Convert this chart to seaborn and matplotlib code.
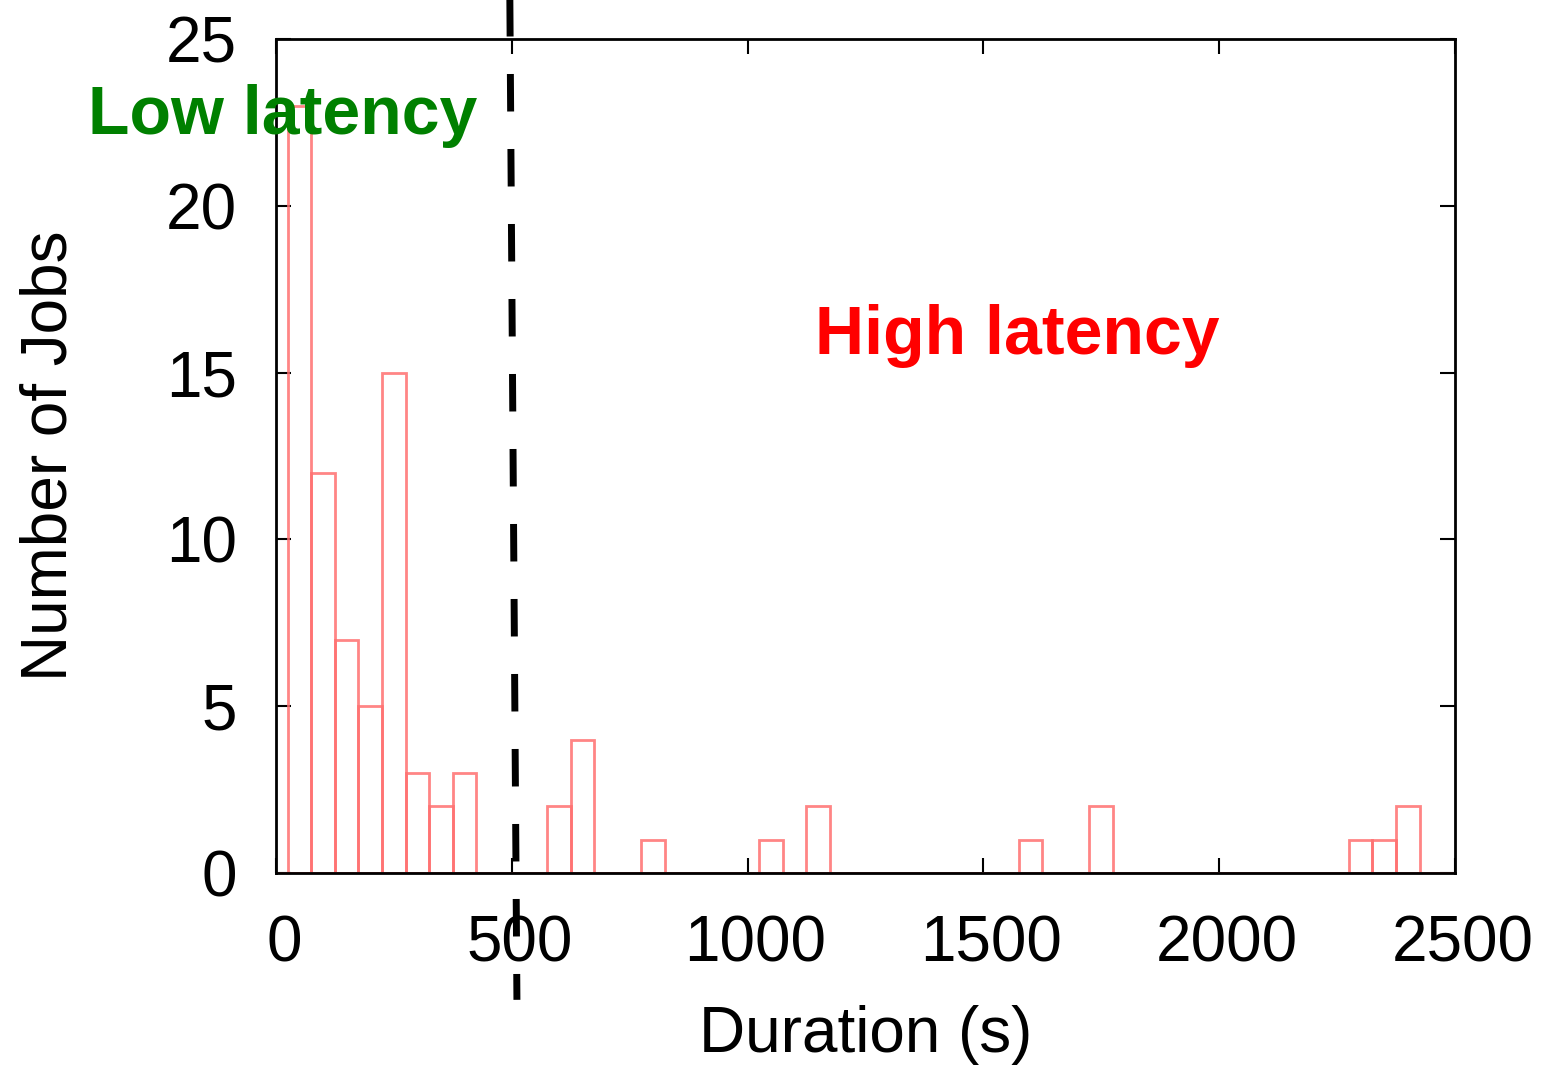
import numpy as np
import pandas as pd
import matplotlib.pyplot as plt
import matplotlib.transforms as mtransforms
import seaborn as sns

# Histogram counts (bin centres in seconds, width 50)
bin_centers = [50, 100, 150, 200, 250, 300, 350, 400,
               600, 650, 800, 1050, 1150, 1600, 1750, 2300, 2350, 2400]
job_counts = [23, 12, 7, 5, 15, 3, 2, 3,
              2, 4, 1, 1, 2, 1, 2, 1, 1, 2]
bin_edges = list(range(25, 2476, 50))

x_ticks = [0, 500, 1000, 1500, 2000, 2500]
y_ticks = [0, 5, 10, 15, 20, 25]

# one row per job
df = pd.DataFrame({"duration": np.repeat(bin_centers, job_counts)})

sns.set_style("ticks")
plt.rcParams['font.family'] = ['Liberation Sans', 'DejaVu Sans']
plt.rcParams['text.color'] = 'black'
plt.rcParams['axes.labelcolor'] = 'black'
plt.rcParams['xtick.color'] = 'black'
plt.rcParams['ytick.color'] = 'black'

fig = plt.figure(figsize=(15.45, 10.69), dpi=100)
ax = fig.add_axes([0.1786, 0.1833, 0.7631, 0.7802])

sns.histplot(
    data=df,
    x="duration",
    bins=bin_edges,
    fill=False,
    color="#ff7070",
    linewidth=2,
    alpha=0.85,
    ax=ax
)
ax.axhline(0, color="#ff7070", lw=2, zorder=1)

ax.set_xlim(0, 2500)
ax.set_ylim(0, 25)
ax.set_xticks(x_ticks)
ax.set_yticks(y_ticks)
ax.tick_params(axis="both", direction="in", length=11, width=1.5,
               labelsize=46, top=True, right=True)
ax.tick_params(axis="x", pad=30)
ax.tick_params(axis="y", pad=28)
for s in ax.spines.values():
    s.set_linewidth(2)
    s.set_color("black")

# x tick labels sit a little right of their ticks in the original
shift = mtransforms.ScaledTranslation(0.08, 0, fig.dpi_scale_trans)
for lbl in ax.get_xticklabels():
    lbl.set_transform(lbl.get_transform() + shift)

ax.set_xlabel("Duration (s)", fontsize=46, labelpad=22)
ax.set_ylabel("Number of Jobs", fontsize=46, labelpad=62)

# threshold line at 500 s
ax.plot([496, 511], [26.2, -3.8], color="black", lw=5,
        linestyle=(0, (5.4, 5.4)), clip_on=False, zorder=5)

ax.text(-399, 22.7, "Low latency", color="green", fontsize=49,
        fontweight="bold", ha="left", va="center", zorder=6)
ax.text(1573, 16.1, "High latency", color="red", fontsize=49,
        fontweight="bold", ha="center", va="center", zorder=6)

plt.savefig("out.png", dpi=100)
